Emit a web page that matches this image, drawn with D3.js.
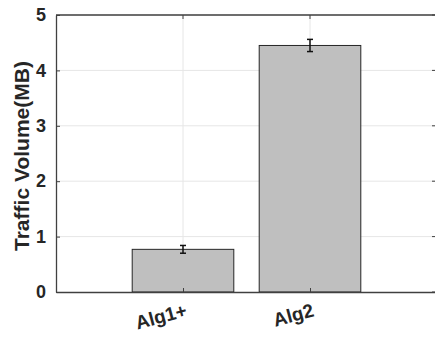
<!DOCTYPE html>
<html><head><meta charset="utf-8">
<script src="https://cdn.jsdelivr.net/npm/d3@7"></script>
<style>body{margin:0;background:#fff}svg{display:block}</style>
</head><body>
<svg id="c" width="435" height="340"></svg>
<script>
const categories = ["Alg1+", "Alg2"];
const values = [0.77, 4.45];
const errors = [0.07, 0.11];
const yTicks = [0, 1, 2, 3, 4, 5];

(function () {
const FONT = "Liberation Sans, Arial, sans-serif";
const svg = d3.select("#c");
const pL = 56, pR = 437, pT = 15, pB = 292;
const x = d3.scaleLinear().domain([0, 3]).range([pL, pR]);
const y = d3.scaleLinear().domain([0, 5]).range([pB, pT]);
const barW = (x(1) - x(0)) * 0.8;

// grid
svg.append("g").selectAll("line").data(yTicks.slice(1)).join("line")
  .attr("x1", pL).attr("x2", pR).attr("y1", d => y(d)).attr("y2", d => y(d))
  .attr("stroke", "#e6e6e6").attr("stroke-width", 1);
svg.append("g").selectAll("line").data(categories).join("line")
  .attr("x1", (d, i) => x(i + 1)).attr("x2", (d, i) => x(i + 1))
  .attr("y1", pT).attr("y2", pB).attr("stroke", "#e6e6e6").attr("stroke-width", 1);

// bars
svg.append("g").selectAll("rect").data(values).join("rect")
  .attr("x", (d, i) => x(i + 1) - barW / 2).attr("width", barW)
  .attr("y", d => y(d)).attr("height", d => y(0) - y(d))
  .attr("fill", "#bfbfbf").attr("stroke", "#262626").attr("stroke-width", 1);

// error bars
const eg = svg.append("g").attr("stroke", "#111").attr("stroke-width", 1.5);
values.forEach((v, i) => {
  const cx = x(i + 1);
  eg.append("line").attr("x1", cx).attr("x2", cx).attr("y1", y(v + errors[i])).attr("y2", y(v - errors[i]));
  eg.append("line").attr("x1", cx - 3).attr("x2", cx + 3).attr("y1", y(v + errors[i])).attr("y2", y(v + errors[i]));
  eg.append("line").attr("x1", cx - 3).attr("x2", cx + 3).attr("y1", y(v - errors[i])).attr("y2", y(v - errors[i]));
});

// y axis
const yAxis = d3.axisLeft(y).tickValues(yTicks).tickFormat(d3.format("d")).tickSizeInner(-4).tickSizeOuter(0).tickPadding(10);
const ga = svg.append("g").attr("transform", `translate(${pL},0)`).call(yAxis)
  .attr("font-family", FONT).attr("font-size", 18).attr("font-weight", "bold");
ga.select(".domain").attr("stroke", "#404040").attr("stroke-width", 1.3);
ga.selectAll(".tick line").attr("stroke", "#404040");
ga.selectAll("text").attr("fill", "#262626");

// x axis (line + ticks)
const xAxis = d3.axisBottom(x).tickValues([1, 2]).tickFormat("").tickSizeInner(-4).tickSizeOuter(0);
const gx = svg.append("g").attr("transform", `translate(0,${pB})`).call(xAxis);
gx.select(".domain").attr("stroke", "#404040").attr("stroke-width", 1.3);
gx.selectAll(".tick line").attr("stroke", "#404040");

// rotated x labels
const lbl = svg.append("g").selectAll("g").data(categories).join("g")
  .attr("transform", (d, i) => `translate(${x(i + 1) + 5},${pB + 24}) rotate(-15)`);
lbl.append("text").attr("text-anchor", "end")
  .attr("font-family", FONT).attr("font-size", 19).attr("font-weight", "bold")
  .attr("fill", "#262626").text(d => d);

// top border
svg.append("line").attr("x1", pL).attr("x2", pR).attr("y1", pT).attr("y2", pT)
  .attr("stroke", "#404040").attr("stroke-width", 1.3);
svg.append("g").selectAll("line").data([1, 2]).join("line")
  .attr("x1", d => x(d)).attr("x2", d => x(d)).attr("y1", pT).attr("y2", pT + 4)
  .attr("stroke", "#404040");
svg.append("g").selectAll("line").data(yTicks).join("line")
  .attr("x1", pR - 5).attr("x2", pR).attr("y1", d => y(d)).attr("y2", d => y(d))
  .attr("stroke", "#404040");

svg.append("g").attr("transform", `translate(29,156) rotate(-90)`)
  .append("text").attr("text-anchor", "middle")
  .attr("font-family", FONT).attr("font-size", 20).attr("font-weight", "bold")
  .attr("textLength", 190).attr("lengthAdjust", "spacingAndGlyphs")
  .attr("fill", "#262626").text("Traffic Volume(MB)");
})();
</script>
</body></html>
